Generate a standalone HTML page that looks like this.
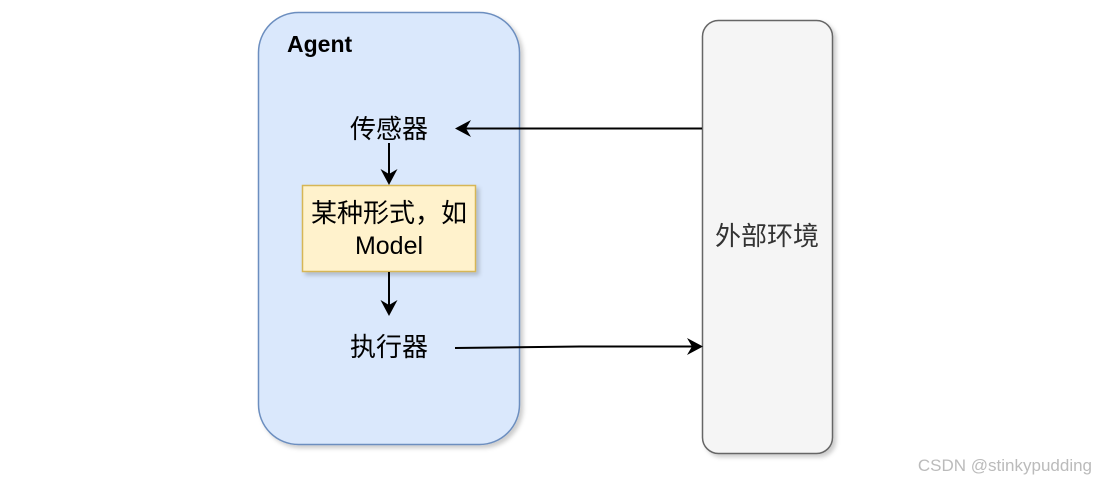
<!DOCTYPE html>
<html><head><meta charset="utf-8"><style>
body{margin:0;background:#fff;width:1096px;height:481px;overflow:hidden;}
</style></head><body>
<svg width="1096" height="481" xmlns="http://www.w3.org/2000/svg" style="font-family:'Liberation Sans','Noto Sans CJK SC',sans-serif">
<defs><filter id="s" x="-20%" y="-20%" width="140%" height="140%"><feDropShadow dx="3" dy="3" stdDeviation="2" flood-color="#000" flood-opacity="0.2"/></filter></defs>
<rect x="258.5" y="12.5" width="261" height="432" rx="40" fill="#dae8fc" stroke="#6c8ebf" stroke-width="1.5" filter="url(#s)"/>
<rect x="702.5" y="20.5" width="130" height="433" rx="16" fill="#f5f5f5" stroke="#666" stroke-width="1.5" filter="url(#s)"/>
<rect x="302.5" y="185.5" width="173" height="86" fill="#fff2cc" stroke="#d6b656" stroke-width="1.5" filter="url(#s)"/>
<text x="287" y="52" font-size="23" font-weight="bold" fill="#000">Agent</text>
<text x="389" y="138" font-size="26" text-anchor="middle" fill="#000">传感器</text>
<text x="389" y="356" font-size="26" text-anchor="middle" fill="#000">执行器</text>
<text x="389" y="222" font-size="26" text-anchor="middle" fill="#000">某种形式，如</text>
<text x="389" y="254" font-size="25" text-anchor="middle" fill="#000">Model</text>
<text x="767" y="245" font-size="26" text-anchor="middle" fill="#333">外部环境</text>
<g stroke="#000" stroke-width="2" fill="none">
<line x1="702" y1="128.5" x2="462" y2="128.5"/>
<line x1="389" y1="143" x2="389" y2="176"/>
<line x1="389" y1="272" x2="389" y2="307"/>
<polyline points="455,348 580,346.5 694,346.5"/>
</g>
<g fill="#000">
<path d="M455,128.5 L471,120 L466,128.5 L471,137 Z"/>
<path d="M389,185 L380.5,169 L389,174 L397.5,169 Z"/>
<path d="M389,316 L380.5,300 L389,305 L397.5,300 Z"/>
<path d="M703,346.5 L687,338 L692,346.5 L687,355 Z"/>
</g>
<text x="1092" y="471" font-size="17" text-anchor="end" fill="#bbbbbb">CSDN @stinkypudding</text>
</svg>
</body></html>
